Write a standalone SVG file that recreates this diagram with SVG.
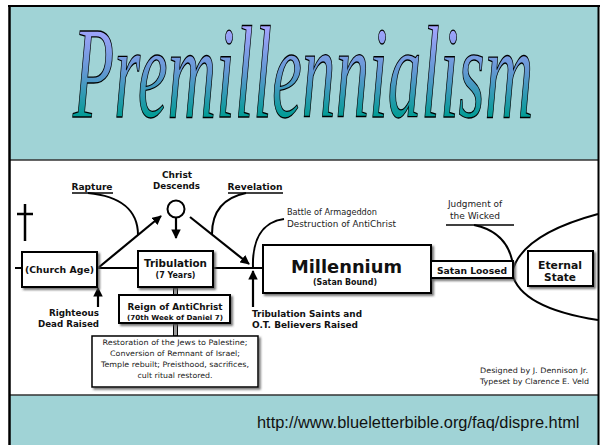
<svg xmlns="http://www.w3.org/2000/svg" width="600" height="445" viewBox="0 0 600 445">
<defs>
  <linearGradient id="tg" gradientUnits="userSpaceOnUse" x1="0" y1="-90" x2="0" y2="0">
    <stop offset="0" stop-color="#a4a4ff"/>
    <stop offset="0.5" stop-color="#6298d2"/>
    <stop offset="1" stop-color="#009c94"/>
  </linearGradient>
  <filter id="sh" x="-10%" y="-10%" width="130%" height="150%">
    <feDropShadow dx="2" dy="2" stdDeviation="1" flood-color="#555" flood-opacity="0.8"/>
  </filter>
  <marker id="ah" viewBox="0 0 10 10" refX="9" refY="5" markerWidth="4.3" markerHeight="4.3" orient="auto">
    <path d="M0,0 L10,5 L0,10 z" fill="#000"/>
  </marker>
  <style>
    .bx{fill:#fff;stroke:#000;stroke-width:2;filter:url(#sh)}
    .ln{fill:none;stroke:#000;stroke-width:2}
    .ul{fill:none;stroke:#000;stroke-width:1.5}
    .ar{fill:none;stroke:#000;stroke-width:2.2;marker-end:url(#ah)}
    .dc{fill:#999;stroke:#000;stroke-width:1}
    .b{font-family:"DejaVu Sans",Verdana,sans-serif;font-weight:bold;fill:#111}
    .r{font-family:"DejaVu Sans",Verdana,sans-serif;fill:#222}
    .c{text-anchor:middle}
    .e{text-anchor:end}
  </style>
</defs>

<rect x="0" y="0" width="600" height="445" fill="#fff"/>
<rect x="9" y="6" width="590" height="154" fill="#a0d3d6"/>
<rect x="9" y="395" width="590" height="50" fill="#a0d3d6"/>
<line x1="9" y1="160" x2="599" y2="160" stroke="#333" stroke-width="1.5"/>
<line x1="9" y1="395" x2="599" y2="395" stroke="#333" stroke-width="1.5"/>
<line x1="9.5" y1="5" x2="9.5" y2="445" stroke="#000" stroke-width="2.5"/>
<line x1="8" y1="6" x2="600" y2="6" stroke="#000" stroke-width="2"/>
<line x1="598.5" y1="5" x2="598.5" y2="445" stroke="#000" stroke-width="2"/>

<text id="title" transform="translate(73 117) scale(0.509 1)" x="0" y="0" font-family="Liberation Serif, serif" font-style="italic" font-size="132" fill="url(#tg)" stroke="#000" stroke-width="1.3">Premillennialism</text>

<g id="cross" stroke="#000" stroke-width="2.5">
  <line x1="25" y1="204" x2="25" y2="241"/>
  <line x1="17" y1="214" x2="33" y2="214"/>
</g>

<g id="connectors">
  <line class="ln" x1="15" y1="268" x2="22" y2="268"/>
  <line class="ln" x1="97" y1="268" x2="138" y2="268"/>
  <line class="ln" x1="213" y1="268" x2="263" y2="268"/>
  <line class="ar" x1="98" y1="268" x2="161" y2="216"/>
  <line class="ar" x1="176" y1="218" x2="176" y2="238"/>
  <line class="ar" x1="190" y1="217" x2="249" y2="264"/>
  <line class="ar" x1="253" y1="307" x2="253" y2="271"/>
  <line class="ar" x1="98" y1="307" x2="98" y2="288"/>
  <line class="ul" x1="72" y1="193" x2="113" y2="193"/>
  <path class="ln" d="M88 193 C120 196 138 210 138 235"/>
  <line class="ul" x1="228" y1="193" x2="283" y2="193"/>
  <path class="ln" d="M246 193 C222 198 212 212 212 234"/>
  <path class="ln" d="M253 268 C252 240 262 222 284 219"/>
  <line class="ul" x1="446" y1="225" x2="514" y2="225"/>
  <path class="ln" d="M474 225 Q508 232 513 265"/>
  <path class="ln" d="M598 214 Q520 235 512 273 Q520 308 598 320"/>
  <rect class="dc" x="173.5" y="288" width="4" height="7"/>
  <rect class="dc" x="173.5" y="324" width="4" height="12"/>
</g>

<g id="christ">
  <circle cx="176" cy="209" r="8.5" fill="#fff" stroke="#000" stroke-width="2"/>
  <text class="b c" x="177" y="178" font-size="9">Christ</text>
  <text class="b c" x="176.5" y="189" font-size="9" textLength="47" lengthAdjust="spacingAndGlyphs">Descends</text>
</g>

<g id="rapture"><text class="b c" x="92" y="190" font-size="9" textLength="41" lengthAdjust="spacingAndGlyphs">Rapture</text></g>
<g id="revelation"><text class="b c" x="255" y="190" font-size="9" textLength="55" lengthAdjust="spacingAndGlyphs">Revelation</text></g>

<g id="church-age">
  <rect class="bx" x="22" y="252" width="75" height="35"/>
  <text class="b c" x="59.5" y="273" font-size="9.5" textLength="69" lengthAdjust="spacingAndGlyphs">(Church Age)</text>
</g>

<g id="tribulation">
  <rect class="bx" x="138" y="251" width="75" height="36"/>
  <text class="b c" x="175.5" y="267" font-size="10.5" textLength="63" lengthAdjust="spacingAndGlyphs">Tribulation</text>
  <text class="b c" x="175.5" y="278" font-size="8" textLength="40" lengthAdjust="spacingAndGlyphs">(7 Years)</text>
</g>

<g id="reign">
  <rect class="bx" x="119" y="295" width="111" height="28"/>
  <text class="b c" x="175" y="310" font-size="9" textLength="95" lengthAdjust="spacingAndGlyphs">Reign of AntiChrist</text>
  <text class="b c" x="175" y="320" font-size="7" textLength="96" lengthAdjust="spacingAndGlyphs">(70th Week of Daniel 7)</text>
</g>

<g id="restoration">
  <rect class="bx" x="92" y="336" width="166" height="51" style="stroke-width:1.5"/>
  <text class="r c" x="175" y="345" font-size="7.5" textLength="145" lengthAdjust="spacingAndGlyphs">Restoration of the Jews to Palestine;</text>
  <text class="r c" x="175" y="356" font-size="7.5" textLength="130" lengthAdjust="spacingAndGlyphs">Conversion of Remnant of Israel;</text>
  <text class="r c" x="175" y="367" font-size="7.5" textLength="148" lengthAdjust="spacingAndGlyphs">Temple rebuilt; Preisthood, sacrifices,</text>
  <text class="r c" x="175" y="378" font-size="7.5" textLength="75" lengthAdjust="spacingAndGlyphs">cult ritual restored.</text>
</g>

<g id="righteous">
  <text class="b e" x="99" y="316" font-size="9" textLength="50" lengthAdjust="spacingAndGlyphs">Righteous</text>
  <text class="b e" x="99" y="327" font-size="9" textLength="61" lengthAdjust="spacingAndGlyphs">Dead Raised</text>
</g>

<g id="trib-saints">
  <text class="b" x="252" y="317" font-size="9" textLength="110" lengthAdjust="spacingAndGlyphs">Tribulation Saints and</text>
  <text class="b" x="252" y="328" font-size="9" textLength="106" lengthAdjust="spacingAndGlyphs">O.T. Believers Raised</text>
</g>

<g id="armageddon">
  <text class="r" x="287" y="215" font-size="8" textLength="90" lengthAdjust="spacingAndGlyphs">Battle of Armageddon</text>
  <text class="r" x="287" y="227" font-size="8" textLength="109" lengthAdjust="spacingAndGlyphs">Destruction of AntiChrist</text>
</g>

<g id="millennium">
  <rect class="bx" x="263" y="245" width="168" height="48"/>
  <text class="b c" x="346.5" y="273" font-size="17.5" textLength="111" lengthAdjust="spacingAndGlyphs">Millennium</text>
  <text class="b c" x="345" y="285" font-size="8" textLength="64" lengthAdjust="spacingAndGlyphs">(Satan Bound)</text>
</g>

<g id="satan-loosed">
  <rect class="bx" x="431" y="261" width="82" height="17"/>
  <text class="b c" x="472" y="274" font-size="9.3" textLength="70" lengthAdjust="spacingAndGlyphs">Satan Loosed</text>
</g>

<g id="judgment">
  <text class="r c" x="475" y="207" font-size="8" textLength="54" lengthAdjust="spacingAndGlyphs">Judgment of</text>
  <text class="r c" x="475" y="219" font-size="8" textLength="50" lengthAdjust="spacingAndGlyphs">the Wicked</text>
</g>

<g id="eternal-state">
  <rect class="bx" x="528" y="251" width="65" height="35"/>
  <text class="b c" x="560" y="268.5" font-size="10.5" textLength="44" lengthAdjust="spacingAndGlyphs">Eternal</text>
  <text class="b c" x="560" y="280.5" font-size="10.5">State</text>
</g>

<g id="credits">
  <text class="r" x="480" y="373" font-size="7.5" textLength="108" lengthAdjust="spacingAndGlyphs">Designed by  J. Dennison Jr.</text>
  <text class="r" x="480" y="384" font-size="7.5" textLength="109" lengthAdjust="spacingAndGlyphs">Typeset by  Clarence E. Veld</text>
</g>

<text id="url" x="257" y="428" font-family="Liberation Sans, Arial, sans-serif" font-size="16.4" fill="#111">http://www.blueletterbible.org/faq/dispre.html</text>
</svg>
